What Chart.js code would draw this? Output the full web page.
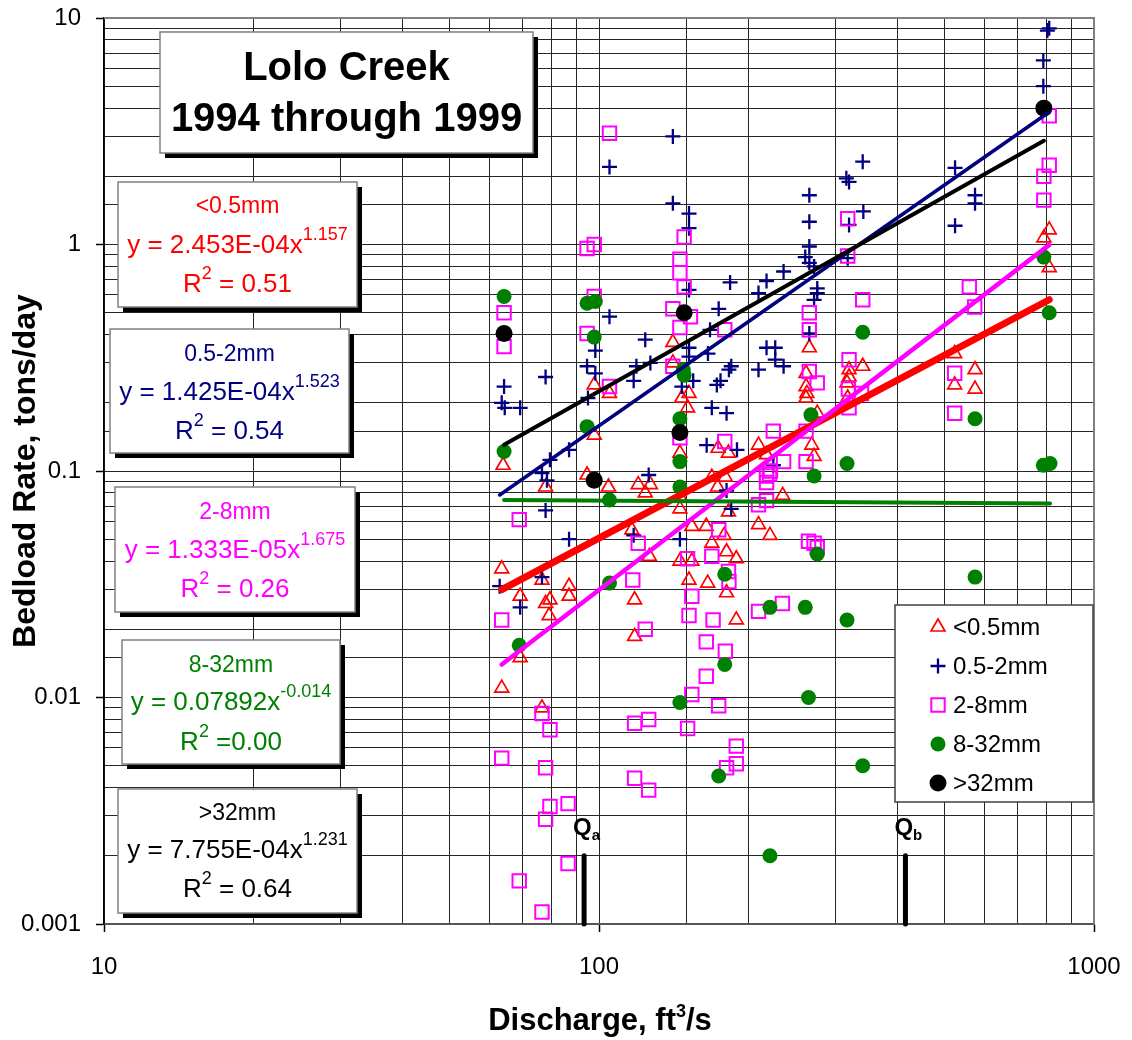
<!DOCTYPE html>
<html><head><meta charset="utf-8">
<script src="https://cdn.jsdelivr.net/npm/chart.js@4.4.1/dist/chart.umd.min.js"></script>
<style>html,body{margin:0;padding:0;background:#fff;}#wrap{width:1132px;height:1040px;}</style>
</head><body><div id="wrap"><canvas id="c" width="1132" height="1040"></canvas></div>
<script>
// ---------- DATA ----------
const seriesNames = ['<0.5mm','0.5-2mm','2-8mm','8-32mm','>32mm'];
const xTickLabels = ['10','100','1000'];
const yTickLabels = ['0.001','0.01','0.1','1','10'];

// <0.5mm
const sandQ = [64,63.6,63.6,69.3,69.3,76.7,78,79.6,79.3,76.7,78,87,87,94.6,97.8,97.8,105,104.5,116.5,118,118,120,127,124,126.4,141,141,147,152,151,145.7,145.7,145.7,145.7,154,154,164.7,152,165.8,169,180,173.6,174,182.6,182.6,169,179,181,189.4,181,189.4,210,218,210,221.5,235,262,262,263,262,276,269,272,266,320,320,317,341,318,523,523,575,575,792,812,812];
const sandRate = [0.106,0.037,0.011,0.028,0.015,0.033,0.026,0.027,0.023,0.009,0.085,0.031,0.028,0.096,0.144,0.24,0.22,0.085,0.055,0.027,0.0186,0.087,0.087,0.08,0.042,0.37,0.30,0.21,0.22,0.19,0.12,0.077,0.068,0.04,0.04,0.057,0.057,0.033,0.032,0.094,0.094,0.085,0.126,0.12,0.066,0.048,0.052,0.044,0.041,0.029,0.022,0.13,0.118,0.058,0.052,0.078,0.27,0.236,0.22,0.21,0.18,0.13,0.116,0.35,0.28,0.26,0.245,0.29,0.21,0.33,0.24,0.28,0.23,1.07,1.16,0.79];

// 0.5-2mm
const coarseSandQ = [64.3,63.6,64.5,69.3,78,63,69.3,76.7,76.7,78.5,79.6,87,78,87,95,94.6,98.3,98.3,105,105,117.5,119,124,127,126,117.5,141,141,152,152,152,152,152,155,147,145.7,165,166,167.6,169,173,174.5,176,181,181,183,185,185,184,190,210,210,218,218,225,227,227,236,236,261,266,266,266,266,272,276,276,272,266,316,320,341,342,320,318,524,524,575,575,790,790,812,805];
const coarseSandRate = [0.236,0.2,0.19,0.19,0.26,0.031,0.025,0.034,0.098,0.091,0.112,0.124,0.067,0.05,0.21,0.29,0.27,0.34,0.48,2.2,0.25,0.29,0.38,0.30,0.096,0.052,3.0,1.52,1.37,1.18,0.63,0.35,0.32,0.25,0.236,0.05,0.13,0.33,0.42,0.19,0.24,0.52,0.25,0.18,0.082,0.28,0.29,0.068,0.68,0.124,0.61,0.28,0.69,0.35,0.106,0.35,0.31,0.76,0.29,0.88,1.65,1.26,0.98,0.83,0.80,0.64,0.61,0.57,0.405,1.96,1.89,2.32,1.40,1.22,0.87,2.18,1.21,1.65,1.52,6.5,5.0,9.0,8.8];

// 2-8mm
const fineGravelQ = [64.3,64.3,63.6,63.6,69,69,76.7,79.6,78,78,79.6,86.6,86.6,76.7,94.6,97.8,97.8,94.6,105,105,117,120,124,118,126,118,126,145.7,145.7,148.6,148.6,141,153,145.7,141,145.7,179.5,179.5,174.5,169,151,154,152,170,182.6,183,164.7,180,164.7,154,174.5,151,189.4,189.4,181,210,218,218,221,218,225,210,234.7,262,262,266,266,266,276,265,272,276,236,222,318,318,341,320,319,320,339,523,523,560,574,812,812,792,792];
const fineGravelRate = [0.5,0.354,0.022,0.0054,0.061,0.00155,0.0085,0.0072,0.0049,0.0029,0.0033,0.0034,0.00185,0.00113,0.96,1.0,0.59,0.405,3.1,0.236,0.033,0.048,0.020,0.0077,0.008,0.0044,0.0039,0.86,0.75,0.65,1.08,0.52,0.48,0.43,0.29,0.14,0.42,0.135,0.055,0.042,0.041,0.028,0.023,0.022,0.036,0.0325,0.0176,0.016,0.0124,0.0103,0.0092,0.0073,0.0061,0.0051,0.0049,0.071,0.074,0.095,0.097,0.089,0.15,0.024,0.026,0.15,0.11,0.5,0.42,0.275,0.245,0.049,0.048,0.046,0.11,0.10,1.3,0.89,0.57,0.31,0.23,0.19,0.22,0.27,0.18,0.65,0.53,3.7,2.24,2.0,1.57];

// 8-32mm
const gravelQ = [64.3,64.3,69,94.6,98.3,97.8,94.6,105,105,148,148.6,145.7,145.7,145.7,145.7,179.5,179.5,174.5,221.5,221.5,268,272,276,261,265,317,317,341,341,575,575,792,812,790,815];
const gravelRate = [0.59,0.122,0.017,0.55,0.56,0.39,0.157,0.0745,0.032,0.28,0.265,0.17,0.11,0.085,0.0095,0.035,0.014,0.0045,0.025,0.002,0.177,0.095,0.043,0.025,0.01,0.108,0.022,0.41,0.005,0.17,0.034,0.88,0.5,0.106,0.108];

// >32mm
const cobbleQ = [64.3,97.8,148.6,145.7,792];
const cobbleRate = [0.405,0.091,0.5,0.148,4.0];

// power-law trendlines y = a x^b (as printed on the chart)
const trendCoefText = ['2.453E-04','1.425E-04','1.333E-05','0.07892','7.755E-04'];
const trendExpText = ['1.157','1.523','1.675','-0.014','1.231'];
const r2Text = [' = 0.51',' = 0.54',' = 0.26',' =0.00',' = 0.64'];

// threshold discharges Qa, Qb
const qNames = ['a','b'];
const qValues = [93.3, 416];
const qMarkRange = [0.001, 0.002];

// ---------- STYLE ----------
const colors = ['#FF0000','#000080','#FF00FF','#008000','#000000'];
const FONT = '"Liberation Sans", Arial, Helvetica, sans-serif';
const pointStyles = [
  {pointStyle:'triangle', radius:8, borderWidth:1.7, fill:'rgba(0,0,0,0)'},
  {pointStyle:'cross', radius:7.5, borderWidth:2.3, fill:'rgba(0,0,0,0)'},
  {pointStyle:'rect', radius:9.5, borderWidth:2, fill:'rgba(0,0,0,0)'},
  {pointStyle:'circle', radius:7.5, borderWidth:0, fill:'#008000'},
  {pointStyle:'circle', radius:8.5, borderWidth:0, fill:'#000000'}
];
const trendWidths = [7, 3.5, 4.5, 4, 4];
const trendOrder = [5, 4, 3, 2, 1];

const allQ = [sandQ, coarseSandQ, fineGravelQ, gravelQ, cobbleQ];
const allR = [sandRate, coarseSandRate, fineGravelRate, gravelRate, cobbleRate];

function pairs(xs, ys){ return xs.map((x,i)=>({x:x, y:ys[i]})); }
function trend(i){
  const a = parseFloat(trendCoefText[i]), b = parseFloat(trendExpText[i]);
  const lo = Math.min(...allQ[i]), hi = Math.max(...allQ[i]);
  return [{x:lo, y:a*Math.pow(lo,b)}, {x:hi, y:a*Math.pow(hi,b)}];
}

const datasets = [];
for (let i=0;i<5;i++){
  const ps = pointStyles[i];
  datasets.push({
    type:'scatter', label: seriesNames[i], data: pairs(allQ[i], allR[i]),
    pointStyle: ps.pointStyle, pointRadius: ps.radius, pointBorderWidth: ps.borderWidth,
    pointBorderColor: colors[i], pointBackgroundColor: ps.fill, borderColor: colors[i], backgroundColor: ps.fill,
    order: 15 - i
  });
}
for (let i=0;i<5;i++){
  datasets.push({
    type:'line', label: seriesNames[i]+' fit', data: trend(i),
    borderColor: colors[i], borderWidth: trendWidths[i], pointRadius:0, fill:false,
    borderCapStyle:'round', order: trendOrder[i]
  });
}
qValues.forEach((q, k)=>{
  datasets.push({
    type:'line', label:'Q'+qNames[k], data: qMarkRange.map(v=>({x:q, y:v})),
    borderColor:'#000', borderWidth:5, pointRadius:0, borderCapStyle:'round', order:0, clip:6
  });
});

const isPow10 = v => { const l = Math.log10(v); return Math.abs(l - Math.round(l)) < 1e-6; };
const labelFor = (v, labels) => { const f = labels.find(s => Math.abs(parseFloat(s)/v - 1) < 1e-6); return f === undefined ? '' : f; };

function richWidth(ctx, parts){ let w=0; parts.forEach(p=>{ ctx.font=p.font; w += ctx.measureText(p.t).width; }); return w; }
function drawRich(ctx, parts, cx, base, color, alignLeft){
  const w = richWidth(ctx, parts);
  let x = alignLeft ? cx : cx - w/2;
  ctx.fillStyle = color; ctx.textAlign='left'; ctx.textBaseline='alphabetic';
  parts.forEach(p=>{ ctx.font=p.font; ctx.fillText(p.t, x, base - (p.up||0)); x += ctx.measureText(p.t).width; });
}
function drawBox(ctx,l,t,r,b,shadow,border){
  if (shadow){ ctx.fillStyle='#000'; ctx.fillRect(l+shadow, t+shadow, r-l, b-t); }
  ctx.fillStyle='#fff'; ctx.fillRect(l,t,r-l,b-t);
  ctx.strokeStyle = border || '#808080'; ctx.lineWidth=1.5; ctx.strokeRect(l,t,r-l,b-t);
}

const boxRects = [[118,182,357,307],[110,329,349,453],[115,487,355,612],[122,640,340,764],[118,789,357,913]];
const boxBase = [[213,253,292],[361,400,439],[519,558,597],[672,710,750],[820,858,897]];

const deco = {
  id:'deco',
  afterDraw(chart){
    const ctx = chart.ctx, a = chart.chartArea;
    const xs = chart.scales.x, ys = chart.scales.y;
    ctx.save();
    // plot frame (top/right grey)
    ctx.strokeStyle='#808080'; ctx.lineWidth=2;
    ctx.beginPath(); ctx.moveTo(a.left, a.top); ctx.lineTo(a.right, a.top); ctx.lineTo(a.right, a.bottom); ctx.stroke();

    // title box
    drawBox(ctx,160,32,533,153,5);
    ctx.fillStyle='#000'; ctx.textAlign='center'; ctx.textBaseline='alphabetic';
    ctx.font = 'bold 40px '+FONT;
    ctx.fillText('Lolo Creek', 346.5, 80);
    ctx.fillText('1994 through 1999', 346.5, 131);

    // equation boxes
    for (let i=0;i<5;i++){
      const [l,t,r,b] = boxRects[i];
      drawBox(ctx,l,t,r,b,5);
      const cx = (l+r)/2, col = colors[i];
      drawRich(ctx, [{t:seriesNames[i], font:'23px '+FONT}], cx, boxBase[i][0], col);
      drawRich(ctx, [{t:'y = '+trendCoefText[i]+'x', font:'26px '+FONT},{t:trendExpText[i], font:'18px '+FONT, up:13}], cx, boxBase[i][1], col);
      drawRich(ctx, [{t:'R', font:'26px '+FONT},{t:'2', font:'18px '+FONT, up:13},{t:r2Text[i], font:'26px '+FONT}], cx, boxBase[i][2], col);
    }

    // legend
    drawBox(ctx,895,605,1093,802,0,'#404040');
    const rowY = [627,666,705,744,783];
    for (let i=0;i<5;i++){
      const ps = pointStyles[i];
      ctx.strokeStyle = colors[i]; ctx.fillStyle = ps.fill; ctx.lineWidth = ps.borderWidth;
      Chart.helpers.drawPoint(ctx, {pointStyle:ps.pointStyle, radius:ps.radius, rotation:0, borderWidth:ps.borderWidth}, 938, rowY[i]);
      ctx.fillStyle='#000'; ctx.font='24px '+FONT; ctx.textAlign='left'; ctx.textBaseline='alphabetic';
      ctx.fillText(seriesNames[i], 953, rowY[i]+8);
    }

    // Q labels
    qValues.forEach((q,k)=>{
      const px = xs.getPixelForValue(q), py = ys.getPixelForValue(qMarkRange[1]);
      drawRich(ctx, [{t:'Q', font:'bold 24px '+FONT},{t:qNames[k], font:'bold 15px '+FONT, up:-5}], px-11, py-21, '#000', true);
    });

    // axis titles
    drawRich(ctx, [{t:'Discharge, ft', font:'bold 31px '+FONT},{t:'3', font:'bold 18px '+FONT, up:13},{t:'/s', font:'bold 31px '+FONT}], 600, 1030, '#000');
    ctx.translate(35, (a.top+a.bottom)/2); ctx.rotate(-Math.PI/2);
    ctx.fillStyle='#000'; ctx.font='bold 32px '+FONT; ctx.textAlign='center'; ctx.textBaseline='alphabetic';
    ctx.fillText('Bedload Rate, tons/day', 0, 0);
    ctx.restore();
  }
};

const tickCol = c => (c.tick && isPow10(c.tick.value)) ? '#000' : 'rgba(0,0,0,0)';
new Chart(document.getElementById('c').getContext('2d'), {
  type:'scatter',
  data:{datasets},
  options:{
    responsive:false, animation:false, devicePixelRatio:1,
    layout:{padding:{top:18, right:38, left:0, bottom:0}},
    plugins:{legend:{display:false}, tooltip:{enabled:false}, title:{display:false}},
    scales:{
      x:{type:'logarithmic', min:10, max:1000, position:'bottom',
        afterFit(s){ s.height = 116; s.paddingLeft = 0; s.paddingRight = 0; },
        grid:{color:'#262626', lineWidth:1, tickLength:8, tickColor:tickCol, tickWidth:1.5},
        border:{color:'#555', width:2},
        ticks:{autoSkip:false, maxRotation:0, minRotation:0, padding:21, color:'#000', font:{family:FONT, size:24},
          callback:(v)=>labelFor(v, xTickLabels)}},
      y:{type:'logarithmic', min:0.001, max:10, position:'left',
        afterFit(s){ s.width = 104; s.paddingTop = 0; s.paddingBottom = 0; },
        grid:{color:'#262626', lineWidth:1, tickLength:8, tickColor:tickCol, tickWidth:1.5},
        border:{color:'#000', width:1.5},
        ticks:{autoSkip:false, padding:15, color:'#000', font:{family:FONT, size:24},
          callback:(v)=>labelFor(v, yTickLabels)}}
    }
  },
  plugins:[deco]
});
</script></body></html>
